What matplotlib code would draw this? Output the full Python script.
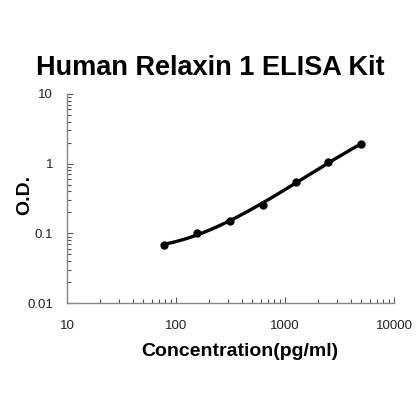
import numpy as np
import matplotlib
matplotlib.use("Agg")
import matplotlib.pyplot as plt
from matplotlib.ticker import LogLocator, FixedLocator, NullFormatter

# ── data ──────────────────────────────────────────────────────────────────────
conc = [78, 156, 312, 625, 1250, 2500, 5000]      # pg/ml
od   = [0.068, 0.101, 0.150, 0.255, 0.545, 1.05, 1.90]
x_ticks  = [10, 100, 1000, 10000]
y_ticks  = [0.01, 0.1, 1, 10]
y_labels = ["0.01", "0.1", "1", "10"]

plt.rcParams["font.family"] = ["Liberation Sans", "DejaVu Sans"]

fig = plt.figure(figsize=(4.2, 4.2), dpi=100)
ax = fig.add_axes([67 / 420, 1 - 303 / 420, (394 - 67) / 420, (303 - 94) / 420])

# smooth standard curve: cubic fit in log-log space through the points
lx, ly = np.log10(conc), np.log10(od)
coef = np.polyfit(lx, ly, 3)
xs = np.linspace(lx[0], lx[-1], 200)
ax.plot(10 ** xs, 10 ** np.polyval(coef, xs), color="black", lw=2.4, zorder=2)
ax.plot(conc, od, "o", color="black", ms=5, zorder=3)

ax.set_xscale("log")
ax.set_yscale("log")
ax.set_xlim(10, 10000)
ax.set_ylim(0.01, 10)

ax.xaxis.set_major_locator(FixedLocator(x_ticks))
ax.set_xticklabels([str(t) for t in x_ticks])
ax.yaxis.set_major_locator(FixedLocator(y_ticks))
ax.set_yticklabels(y_labels)
ax.xaxis.set_minor_locator(LogLocator(base=10, subs=np.arange(2, 10)))
ax.yaxis.set_minor_locator(LogLocator(base=10, subs=np.arange(2, 10)))
ax.xaxis.set_minor_formatter(NullFormatter())
ax.yaxis.set_minor_formatter(NullFormatter())

for s in ["top", "right"]:
    ax.spines[s].set_visible(False)
for s in ["left", "bottom"]:
    ax.spines[s].set_color("#888888")
    ax.spines[s].set_linewidth(1.0)

ax.tick_params(which="both", direction="in", color="#555555", width=0.8,
               labelsize=9.5, labelcolor="#222222")
ax.tick_params(which="major", length=4)
ax.tick_params(which="minor", length=3)
ax.tick_params(axis="x", which="major", pad=12)
ax.tick_params(axis="y", which="major", pad=10)

ax.set_xlabel("Concentration(pg/ml)", fontsize=14, fontweight="bold")
ax.set_ylabel("O.D.", fontsize=14, fontweight="bold")
ax.xaxis.set_label_coords((240 - 67) / 327, -(352 - 303) / 209, transform=ax.transAxes)
ax.xaxis.label.set_va("center")
ax.yaxis.set_label_coords(-(67 - 25) / 327, (303 - 195) / 209, transform=ax.transAxes)
ax.yaxis.label.set_va("center")
fig.text(0.5, 1 - 68 / 420, "Human Relaxin 1 ELISA Kit", ha="center", va="center",
         fontsize=19.5, fontweight="bold")

fig.savefig("out.png", dpi=100)
